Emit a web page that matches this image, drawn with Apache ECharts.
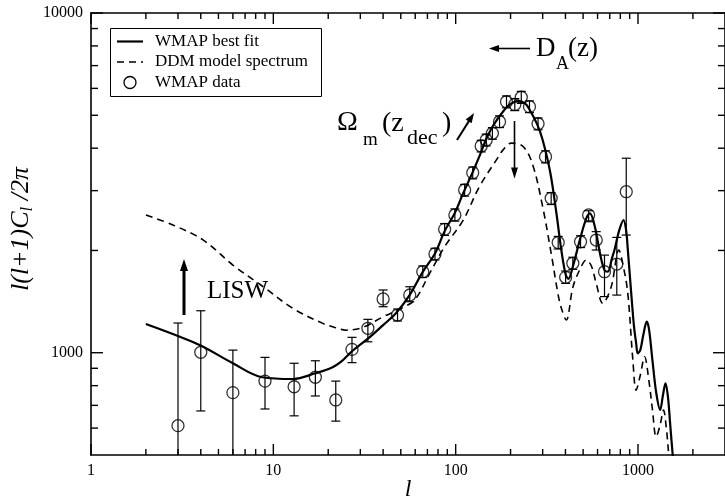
<!DOCTYPE html>
<html><head><meta charset="utf-8">
<script src="https://cdn.jsdelivr.net/npm/echarts@6/dist/echarts.min.js"></script>
<style>html,body{margin:0;padding:0;background:#fff}#c{width:725px;height:502px}</style>
</head><body><div id="c"></div>
<script>
// ---------------- data ----------------
const fitL = [2,3,4,6,8.7,12.8,17,21,24,27,33,40,47,56,66,77,87,99,110,124,138,147,160,182,200,220,240,254,280,300,330,356,380,401,415,440,480,520,545,580,620,655,683,720,743,790,833,860,880,918,950,977,997,1030,1070,1117,1150,1200,1260,1323,1370,1415,1460,1500,1550,1600];
const fitC = [1215,1120,1050,931,847,837,870,905,950,1010,1100,1206,1306,1480,1730,1960,2280,2580,2950,3400,3900,4250,4650,5130,5400,5500,5420,5200,4700,4230,3400,2600,2000,1700,1650,1800,2150,2480,2570,2350,1950,1751,1732,1900,2006,2300,2457,2300,2000,1496,1200,1066,996,1020,1130,1234,1170,950,760,679,750,813,740,620,500,420];

const ddmL = [2,2.83,4.13,6,8.8,12.8,18.7,22,25,31,40,50,59.6,72,87,110,135,167,182,202,235,265,300,334,364,380,404,440,488,520,555,590,641,713,785,830,879,937,977,1030,1086,1150,1200,1258,1320,1380,1430,1475,1520];
const ddmC = [2544,2374,2146,1812,1564,1351,1220,1185,1165,1188,1276,1350,1430,1713,2052,2457,3083,3690,3955,4140,4040,3566,2690,1962,1490,1351,1248,1564,1791,1875,1800,1600,1398,1564,2006,1800,1496,952,776,860,973,820,680,566,610,678,600,500,420];

const dataL  = [3,4,6,9,13,17,22,27,33,40,48,56,66,77,87,99,112,124,138,147,159,174,190,211,229,254,283,311,334,365,401,439,484,536,590,655,765,862];
const dataC  = [610,1003,763,825,794,847,726,1023,1180,1440,1291,1479,1732,1953,2308,2544,3013,3388,4060,4228,4425,4786,5480,5380,5650,5300,4720,3776,2848,2110,1667,1833,2122,2544,2146,1732,1824,2978];
const dataLo = [400,674,480,683,652,746,629,935,1077,1366,1240,1413,1665,1875,2215,2440,2890,3250,3900,4060,4250,4600,5260,5160,5420,5090,4530,3620,2730,2020,1600,1760,2040,2430,2006,1463,1478,2220];
const dataHi = [1223,1329,1018,969,931,947,825,1110,1254,1530,1345,1564,1800,2030,2400,2650,3130,3520,4220,4400,4600,4980,5700,5600,5880,5510,4910,3930,2960,2200,1740,1910,2210,2618,2272,1938,2185,3737];

const xMajor = [1,10,100,1000];
const yMajor = [1000,10000];
const xMinor = [2,3,4,5,6,7,8,9,20,30,40,50,60,70,80,90,200,300,400,500,600,700,800,900,2000];
const yMinor = [600,700,800,900,2000,3000,4000,5000,6000,7000,8000,9000];

const seriesNames = ['WMAP best fit','DDM model spectrum','WMAP data'];
const X_RANGE = [1, 3000];
const Y_RANGE = [500, 10000];

// ---------------- helpers ----------------
const FONT = '"Liberation Serif", "Times New Roman", serif';
const zip = (a, b) => a.map((v, i) => [v, b[i]]);
const isMajor = (v, list) => list.some(m => Math.abs(v - m) / m < 1e-6);
const fmt = list => v => isMajor(v, list) ? String(Math.round(v)) : '';

function errItem(params, api){
  const l = api.value(0);
  const lo = api.coord([l, api.value(1)]);
  const hi = api.coord([l, api.value(2)]);
  const w = 4.5, st = {stroke:'#000', lineWidth:1.2};
  return {type:'group', children:[
    {type:'line', shape:{x1:lo[0],y1:lo[1],x2:hi[0],y2:hi[1]}, style:st},
    {type:'line', shape:{x1:hi[0]-w,y1:hi[1],x2:hi[0]+w,y2:hi[1]}, style:st},
    {type:'line', shape:{x1:lo[0]-w,y1:lo[1],x2:lo[0]+w,y2:lo[1]}, style:st}]};
}
function arrow(x1, y1, x2, y2, lw, head, hw){
  const dx = x2-x1, dy = y2-y1, len = Math.hypot(dx, dy), ux = dx/len, uy = dy/len;
  const bx = x2-ux*head, by = y2-uy*head;
  return [
    {type:'line', shape:{x1:x1,y1:y1,x2:bx+ux,y2:by+uy}, style:{stroke:'#000', lineWidth:lw}},
    {type:'polygon', shape:{points:[[x2,y2],[bx-uy*hw,by+ux*hw],[bx+uy*hw,by-ux*hw]]}, style:{fill:'#000'}}
  ];
}
function txt(x, y, s, size, extra){
  return {type:'text', x:x, y:y, style:Object.assign({text:s, fontSize:size, fontFamily:FONT, fill:'#000', verticalAlign:'middle', align:'left'}, extra||{})};
}
function seg(x1, y1, x2, y2, lw, dash){
  const st = {stroke:'#000', lineWidth:lw};
  if (dash) st.lineDash = dash;
  return {type:'line', shape:{x1:x1,y1:y1,x2:x2,y2:y2}, style:st};
}

const axisCommon = {
  axisLine:{show:true, onZero:false, lineStyle:{color:'#000', width:1.6}},
  axisTick:{show:false},
  splitLine:{show:false}
};

const chart = echarts.init(document.getElementById('c'));
chart.setOption({
  animation:false,
  backgroundColor:'#fff',
  grid:{left:91, right:0, top:13, bottom:47, containLabel:false, outerBoundsMode:'none'},
  xAxis:[
    Object.assign({type:'log', logBase:10, min:X_RANGE[0], max:X_RANGE[1], position:'bottom',
      axisLabel:{show:true, margin:8, fontFamily:FONT, fontSize:16, color:'#000', formatter:fmt(xMajor)}}, axisCommon),
    Object.assign({type:'log', logBase:10, min:X_RANGE[0], max:X_RANGE[1], position:'top',
      axisLabel:{show:false}}, axisCommon)
  ],
  yAxis:[
    Object.assign({type:'log', logBase:10, min:Y_RANGE[0], max:Y_RANGE[1], position:'left',
      axisLabel:{show:true, margin:8, fontFamily:FONT, fontSize:16, color:'#000', formatter:fmt(yMajor)}}, axisCommon),
    Object.assign({type:'log', logBase:10, min:Y_RANGE[0], max:Y_RANGE[1], position:'right',
      axisLabel:{show:false}}, axisCommon)
  ],
  series:[
    {name:seriesNames[0], type:'line', data:zip(fitL, fitC), symbol:'none', smooth:0.35, clip:true,
      lineStyle:{color:'#000', width:2.2}, itemStyle:{color:'#000'}, z:3},
    {name:seriesNames[1], type:'line', data:zip(ddmL, ddmC), symbol:'none', smooth:0.35, clip:true,
      lineStyle:{color:'#000', width:1.6, type:[7,5]}, itemStyle:{color:'#000'}, z:3},
    {name:'err', type:'custom', clip:true, silent:true,
      data:dataL.map((l, i) => [l, dataLo[i], dataHi[i]]), encode:{x:0, y:[1,2]}, renderItem:errItem, z:4},
    {name:seriesNames[2], type:'scatter', data:zip(dataL, dataC), symbol:'circle', symbolSize:12, clip:true,
      itemStyle:{color:'rgba(255,255,255,0)', borderColor:'#000', borderWidth:1.3}, z:5}
  ]
});

// ---------------- ticks (positions from the chart's own axes) ----------------
const px = v => chart.convertToPixel({xAxisIndex:0}, v);
const py = v => chart.convertToPixel({yAxisIndex:0}, v);
const gL = px(X_RANGE[0]), gR = px(X_RANGE[1]), gB = py(Y_RANGE[0]), gT = py(Y_RANGE[1]);
const TW = 1.4;
const tickEls = [];
xMajor.forEach(v => { const x = px(v); tickEls.push(seg(x, gB, x, gB-11, TW), seg(x, gT, x, gT+11, TW)); });
xMinor.forEach(v => { const x = px(v); tickEls.push(seg(x, gB, x, gB-6, TW), seg(x, gT, x, gT+6, TW)); });
yMajor.forEach(v => { const y = py(v); tickEls.push(seg(gL, y, gL+12, y, TW), seg(gR, y, gR-12, y, TW)); });
yMinor.forEach(v => { const y = py(v); tickEls.push(seg(gL, y, gL+7, y, TW), seg(gR, y, gR-7, y, TW)); });

// ---------------- legend box ----------------
const legendEls = [
  {type:'rect', shape:{x:110.5, y:28.5, width:211, height:68}, style:{fill:'#fff', stroke:'#000', lineWidth:1}, z:10},
  Object.assign(seg(117, 41.5, 143, 41.5, 2.2), {z:11}),
  Object.assign(seg(117, 62, 143, 62, 1.6, [7,5]), {z:11}),
  {type:'circle', shape:{cx:130, cy:82.5, r:6}, style:{fill:'none', stroke:'#000', lineWidth:1.3}, z:11},
  Object.assign(txt(155, 41.5, seriesNames[0], 17), {z:11}),
  Object.assign(txt(155, 62, seriesNames[1], 17), {z:11}),
  Object.assign(txt(155, 82.5, seriesNames[2], 17), {z:11})
];

chart.setOption({graphic:[
  ...tickEls,
  ...legendEls,
  // D_A(z)
  ...arrow(530, 48.5, 489, 48.5, 1.6, 10, 3.5),
  txt(536, 49, 'D', 27),
  txt(556, 64, 'A', 18),
  txt(568, 49, '(z)', 27),
  // Omega_m(z_dec)
  txt(337, 123, 'Ω', 28),
  txt(363, 140.5, 'm', 19),
  txt(382, 123.5, '(z', 28),
  txt(407, 138.5, 'dec', 22),
  txt(442, 123.5, ')', 28),
  ...arrow(457, 140, 474, 113, 2, 10, 3.5),
  ...arrow(514.5, 121, 514.5, 178.5, 1.6, 11, 3.5),
  // LISW
  txt(207, 291, 'LISW', 25),
  ...arrow(184, 315, 184, 259, 3, 12, 4),
  // axis titles
  {type:'text', x:21, y:229, rotation:Math.PI/2,
    style:{text:'{a|l(l+1)C}{s|l}{a| /2π}', align:'center', verticalAlign:'middle', fill:'#000',
      rich:{a:{fontSize:26, fontStyle:'italic', fontFamily:FONT, fill:'#000'},
            s:{fontSize:17, fontStyle:'italic', fontFamily:FONT, fill:'#000', padding:[14,0,0,0]}}}},
  txt(408, 490, 'l', 24, {align:'center', fontStyle:'italic'})
]});
</script>
</body></html>
